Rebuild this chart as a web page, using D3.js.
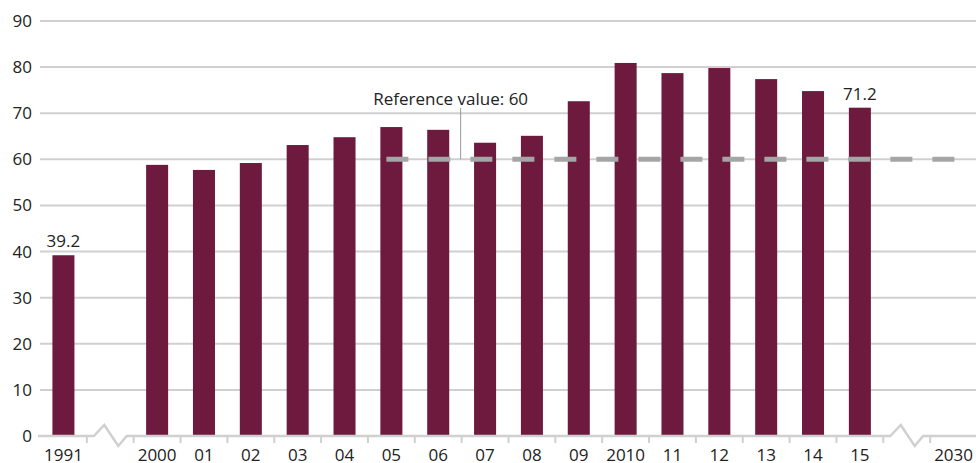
<!DOCTYPE html>
<html>
<head>
<meta charset="utf-8">
<script src="https://cdn.jsdelivr.net/npm/d3@7"></script>
<style>
  body { margin: 0; background: #fff; }
  svg { display: block; font-family: "Open Sans", "Noto Sans", sans-serif; }
</style>
</head>
<body>
<div id="viz"></div>
<script>
// slots on the x axis, "gap1"/"gap2" are the axis breaks
const slots = ['1991', 'gap1', '2000', '2001', '2002', '2003', '2004', '2005', '2006', '2007',
  '2008', '2009', '2010', '2011', '2012', '2013', '2014', '2015', 'gap2', '2030'];
const tickLabels = ['1991', '', '2000', '01', '02', '03', '04', '05', '06', '07',
  '08', '09', '2010', '11', '12', '13', '14', '15', '', '2030'];

const years = ['1991', '2000', '2001', '2002', '2003', '2004', '2005', '2006', '2007',
  '2008', '2009', '2010', '2011', '2012', '2013', '2014', '2015'];
const values = [39.2, 58.8, 57.7, 59.2, 63.1, 64.8, 67.0, 66.4, 63.6,
  65.1, 72.6, 80.9, 78.7, 79.8, 77.4, 74.8, 71.2];

const labelled = ['1991', '2015'];
const refValue = 60;
const refFrom = '2005';
const refTo = '2030';

const width = 976;
const height = 463;

const svg = d3.select('#viz').append('svg')
  .attr('width', width)
  .attr('height', height);

const x = d3.scaleBand()
  .domain(slots)
  .range([40, 977])
  .paddingInner(0.53)
  .paddingOuter(0.265);

const y = d3.scaleLinear()
  .domain([0, 90])
  .range([436, 21]);

const step = x.step();
const slotStart = (s) => x(s) - x.paddingOuter() * step;
const centre = (s) => x(s) + x.bandwidth() / 2;

const gridCol = '#d0d0d0';
const textCol = '#222';

// gridlines
svg.append('g')
  .selectAll('line')
  .data(y.ticks(9).filter((d) => d > 0))
  .join('line')
  .attr('x1', 40)
  .attr('x2', width)
  .attr('y1', (d) => y(d))
  .attr('y2', (d) => y(d))
  .attr('stroke', gridCol)
  .attr('stroke-width', 2);

// y labels
svg.append('g')
  .selectAll('text')
  .data(y.ticks(9))
  .join('text')
  .attr('x', 32)
  .attr('y', (d) => y(d) + 6)
  .attr('text-anchor', 'end')
  .attr('font-size', 17)
  .attr('fill', textCol)
  .text((d) => d);

// bars
svg.append('g')
  .selectAll('rect')
  .data(years)
  .join('rect')
  .attr('x', (d) => x(d))
  .attr('width', x.bandwidth())
  .attr('y', (d, i) => y(values[i]))
  .attr('height', (d, i) => y(0) - y(values[i]))
  .attr('fill', '#6e1a3e');

// value labels
svg.append('g')
  .selectAll('text')
  .data(labelled)
  .join('text')
  .attr('x', (d) => centre(d))
  .attr('y', (d) => y(values[years.indexOf(d)]) - 8)
  .attr('text-anchor', 'middle')
  .attr('font-size', 17)
  .attr('fill', textCol)
  .text((d) => values[years.indexOf(d)].toFixed(1));

// x axis line with break zigzags
const y0 = y(0);
const axisPts = [[38, y0]];
['gap1', 'gap2'].forEach((g) => {
  const s = slotStart(g);
  const c = s + step / 2;
  axisPts.push([s + 7, y0], [c - 6, y0 - 11], [c + 8, y0 + 10], [s + step - 7, y0]);
});
axisPts.push([width, y0]);

svg.append('path')
  .attr('d', d3.line()(axisPts))
  .attr('fill', 'none')
  .attr('stroke', gridCol)
  .attr('stroke-width', 2.5);

// ticks between slots
svg.append('g')
  .selectAll('line')
  .data(slots.slice(1))
  .join('line')
  .attr('x1', (d) => slotStart(d))
  .attr('x2', (d) => slotStart(d))
  .attr('y1', y0)
  .attr('y2', y0 + 7)
  .attr('stroke', gridCol)
  .attr('stroke-width', 2);

// x labels
svg.append('g')
  .selectAll('text')
  .data(slots)
  .join('text')
  .attr('x', (d) => centre(d))
  .attr('y', 461)
  .attr('text-anchor', 'middle')
  .attr('font-size', 17)
  .attr('fill', textCol)
  .text((d, i) => tickLabels[i]);

// reference line
const refX1 = centre(refFrom) - 5;
const refX2 = centre(refTo) + 3;
svg.append('line')
  .attr('x1', refX1)
  .attr('x2', refX2)
  .attr('y1', y(refValue))
  .attr('y2', y(refValue))
  .attr('stroke', '#a5a5a5')
  .attr('stroke-width', 5)
  .attr('stroke-dasharray', '22 20');

// annotation
const annX = slotStart('2007') - 1;
svg.append('line')
  .attr('x1', annX)
  .attr('x2', annX)
  .attr('y1', 108)
  .attr('y2', y(refValue))
  .attr('stroke', '#999')
  .attr('stroke-width', 1);

svg.append('text')
  .attr('x', annX - 10)
  .attr('y', 105)
  .attr('text-anchor', 'middle')
  .attr('font-size', 17)
  .attr('fill', textCol)
  .text('Reference value: ' + refValue);
</script>
</body>
</html>
